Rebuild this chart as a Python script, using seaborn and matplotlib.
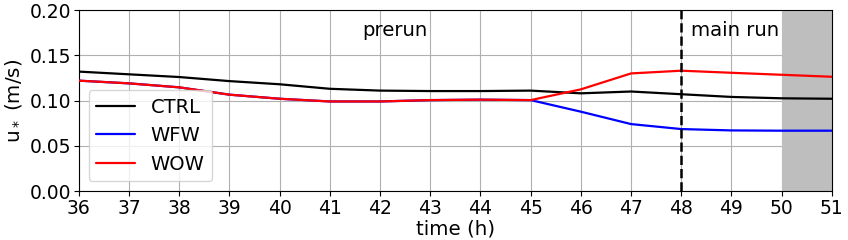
import matplotlib
matplotlib.use("Agg")
import matplotlib.pyplot as plt
import seaborn as sns
import pandas as pd

hours = [36, 37, 38, 39, 40, 41, 42, 43, 44, 45, 46, 47, 48, 49, 50, 51]
ctrl = [0.132, 0.129, 0.126, 0.1215, 0.118, 0.113, 0.111, 0.1105, 0.1105, 0.111, 0.108, 0.110, 0.107, 0.104, 0.1025, 0.102]
wfw = [0.122, 0.119, 0.1146, 0.1065, 0.102, 0.099, 0.099, 0.1005, 0.101, 0.1005, 0.0877, 0.074, 0.0685, 0.067, 0.0667, 0.0667]
wow = [0.122, 0.119, 0.1146, 0.1065, 0.102, 0.099, 0.099, 0.1005, 0.101, 0.1005, 0.1124, 0.130, 0.133, 0.1307, 0.1285, 0.1263]
series_names = ["CTRL", "WFW", "WOW"]
series_colors = ["black", "blue", "red"]

frames = []
for name, vals in zip(series_names, [ctrl, wfw, wow]):
    frames.append(pd.DataFrame({"time": hours, "ustar": vals, "run": name}))
df = pd.concat(frames, ignore_index=True)

sns.set_style("ticks")
plt.rcParams["font.family"] = ["DejaVu Sans"]
plt.rcParams["text.color"] = "black"
plt.rcParams["axes.labelcolor"] = "black"

fig = plt.figure(figsize=(8.48, 2.4), dpi=100)
ax = fig.add_axes([0.093, 0.204, 0.888, 0.754])

ax.axvspan(50, 51, color="#bebebe", zorder=2, lw=0)
sns.lineplot(data=df, x="time", y="ustar", hue="run", palette=dict(zip(series_names, series_colors)),
             hue_order=series_names, lw=1.6, ax=ax, zorder=3)
ax.axvline(48, color="black", ls="--", lw=1.8, zorder=4)

ax.set_xlim(36, 51)
ax.set_ylim(0, 0.20)
ax.set_xticks(hours)
ax.set_yticks([0.0, 0.05, 0.10, 0.15, 0.20])
ax.set_yticklabels(["0.00", "0.05", "0.10", "0.15", "0.20"])
ax.grid(True, color="#b0b0b0", lw=0.8)
ax.tick_params(labelsize=13.5, length=3.5, width=0.8, colors="black", pad=2)
for s in ax.spines.values():
    s.set_color("black")
    s.set_linewidth(0.8)
ax.set_xlabel("time (h)", fontsize=14.3, labelpad=1, color="black")
ax.set_ylabel(r"u$_*$ (m/s)", fontsize=14.3, labelpad=4, color="black")

ax.text(42.3, 0.177, "prerun", fontsize=14.2, ha="center", va="center", zorder=5, color="black")
ax.text(48.2, 0.177, "main run", fontsize=14.2, ha="left", va="center", zorder=5, color="black")

leg = ax.legend(loc="lower left", fontsize=14, frameon=True, title=None, labelspacing=0.48)
for t in leg.get_texts():
    t.set_color("black")
leg.set_zorder(6)

fig.savefig("out.png", dpi=100)
